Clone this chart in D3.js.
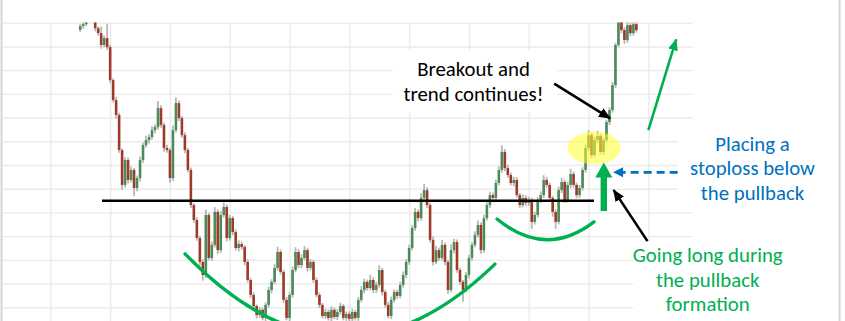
<!DOCTYPE html>
<html>
<head>
<meta charset="utf-8">
<script src="https://cdn.jsdelivr.net/npm/d3@7"></script>
<style>
html, body { margin: 0; padding: 0; background: #fff; }
svg { display: block; }
</style>
</head>
<body>
<div id="chart"></div>
<script>
// closing prices, one per bar (bar index starts at firstBar)
var firstBar = 10;
var firstOpen = 127.0;
var closes = [
  128.6,129.4,134.5,135.3,132.0,127.7,125.6,120.6,123.5,119.7,
  105.8,97.4,91.1,76.3,61.6,72.1,63.7,67.9,60.3,64.5,
  72.1,78.4,80.5,81.8,84.7,86.0,94.0,86.9,77.2,76.3,
  64.5,84.7,96.1,89.8,82.6,76.3,67.9,53.1,46.8,39.2,
  29.1,23.6,48.9,30.8,36.3,50.2,34.1,48.9,52.3,39.2,
  47.6,41.7,35.0,36.7,35.4,29.1,21.5,15.2,10.5,6.7,
  8.9,5.5,11.0,17.3,20.7,26.6,33.3,24.9,13.1,5.5,
  15.2,25.7,33.3,27.8,30.8,34.1,26.6,29.1,21.5,15.2,
  11.0,6.3,8.0,5.5,8.9,5.9,8.0,10.5,5.5,7.2,
  5.1,8.0,5.5,13.1,17.3,20.7,18.1,21.5,17.3,19.4,
  25.7,16.4,11.0,6.3,13.1,16.4,14.8,19.4,23.6,29.1,
  35.0,43.4,50.2,47.6,56.1,59.4,53.1,38.4,29.1,34.1,
  30.8,36.3,29.1,17.3,34.1,37.5,25.7,20.7,17.3,23.6,
  30.8,36.3,40.5,44.7,34.1,47.6,53.1,57.3,56.1,62.4,
  67.9,75.5,68.7,65.8,62.4,63.7,57.3,53.1,56.1,54.0,
  55.2,46.0,48.9,55.2,57.3,63.7,61.6,56.1,50.2,46.0,
  59.4,62.8,55.2,61.6,66.2,61.6,57.3,60.3,67.9,77.2,
  82.6,74.2,80.5,82.2,75.5,80.5,88.1,93.2,103.7,120.6,
  133.2,126.9,122.7,129.0,125.6,129.4,126.9
];
// wick length above the body / below the body
var wickUp = [
  0.8,1.2,0.6,1.0,0.9,1.5,0.7,2.8,1.1,6.0,
  1.0,0.8,1.3,0.9,0.7,1.2,1.0,1.5,0.8,1.1,
  1.4,1.0,1.8,1.2,1.6,1.1,3.0,1.2,0.9,1.3,
  1.0,2.0,2.4,1.1,0.9,1.2,0.8,1.0,0.7,1.1,
  0.9,1.2,2.2,1.0,1.4,2.0,1.1,1.6,1.9,1.0,
  1.3,0.9,1.1,1.5,1.0,0.8,1.2,0.9,1.1,0.7,
  1.2,0.8,1.0,1.4,1.1,1.6,2.2,1.0,0.9,1.2,
  1.1,1.4,2.0,1.3,1.5,1.8,1.0,1.2,0.9,1.1,
  1.0,0.8,1.3,1.1,1.5,0.9,1.2,1.4,0.8,1.0,
  1.1,1.3,0.9,1.2,1.6,1.4,1.0,2.2,1.1,1.3,
  2.0,1.0,0.9,1.2,1.4,1.1,1.0,1.3,1.5,1.2,
  1.4,1.2,1.6,1.0,2.0,2.6,1.2,1.0,1.4,1.8,
  1.1,2.2,1.0,0.9,2.5,1.4,1.1,1.0,0.8,1.2,
  1.3,1.1,1.6,1.9,1.0,1.4,1.2,1.5,1.1,1.4,
  1.6,2.8,1.2,1.4,1.0,1.3,1.1,0.9,1.5,1.2,
  1.4,1.0,1.3,1.2,1.6,2.0,1.3,1.0,0.9,1.1,
  1.5,1.8,1.0,1.4,2.2,1.1,1.0,1.3,1.2,1.4,
  2.0,1.0,1.5,2.2,1.0,1.2,1.0,1.1,1.3,1.0,
  1.5,1.0,1.2,1.4,1.0,1.6,1.1
];
var wickDown = [
  0.9,1.1,0.8,1.2,1.0,1.3,1.0,1.5,0.9,1.2,
  1.3,1.0,1.6,1.2,2.0,1.1,1.4,1.0,3.5,1.4,
  1.5,1.2,1.0,1.4,1.1,1.3,1.0,1.2,1.6,1.1,
  2.0,1.3,1.0,1.2,1.1,1.4,1.0,1.3,1.2,1.1,
  1.5,2.4,1.2,1.0,1.3,1.1,1.6,1.2,1.0,1.4,
  1.1,1.3,1.0,1.5,1.2,1.4,1.0,1.3,1.1,1.5,
  1.2,1.0,1.3,1.1,1.4,1.0,1.2,1.1,1.3,1.0,
  1.4,1.1,1.0,1.3,1.2,1.0,1.5,1.1,1.2,1.0,
  1.3,1.0,1.2,1.1,1.4,1.0,1.3,1.1,1.0,1.2,
  1.0,1.3,1.1,1.2,1.0,1.4,1.1,1.0,1.3,1.2,
  1.1,1.4,1.2,1.0,1.3,1.1,1.2,1.0,1.1,1.3,
  1.2,1.0,1.1,1.4,1.0,1.2,1.3,1.1,1.5,1.0,
  1.2,1.1,1.4,1.6,1.0,1.3,1.1,1.2,5.0,1.0,
  1.3,1.2,1.0,1.1,1.5,1.2,1.0,1.3,1.1,1.2,
  1.0,1.1,1.3,1.2,1.0,1.4,1.1,1.2,1.0,1.3,
  1.2,3.0,1.1,1.0,1.3,1.2,1.1,1.4,2.0,3.0,
  1.1,1.3,1.2,1.0,1.4,1.1,1.3,1.2,1.0,1.1,
  1.3,1.2,1.0,1.4,1.1,1.2,1.0,1.3,1.1,1.2,
  1.0,1.3,1.6,1.1,1.2,1.0,1.1
];

// grid positions
var gridPrices = [10, 20, 30, 40, 50, 60, 70, 80, 90, 100, 110, 120, 130];
var gridBars = [0, 20, 40, 60, 80, 100, 120, 140, 160, 180, 200];

// drawn annotations, in bar / price units
var resistance = {price: 54.9, from: 17.3, to: 181.8};
var bowlBig = [[45.05, 32.5], [97.0, -35.0], [148.7, 28.2]];
var bowlSmall = [[149.4, 47.2], [165.6, 30.35], [181.8, 46.0]];
var highlight = {bar: 181.9, price: 77.2};

var W = 845, H = 321;
var plot = {left: 2.5, right: 693, top: 22.5, bottom: 321};

var x = d3.scaleLinear().domain([-16, 215]).range([plot.left, 693.2]);
var y = d3.scaleLinear().domain([4.2, 130.1]).range([321, 22.5]);

var bars = closes.map(function(c, i) {
    var o = i ? closes[i - 1] : firstOpen;
    return {
        bar: firstBar + i,
        open: o,
        close: c,
        high: Math.max(o, c) + wickUp[i],
        low: Math.min(o, c) - wickDown[i]
    };
});

var svg = d3.select('#chart').append('svg')
    .attr('width', W)
    .attr('height', H);

svg.append('rect').attr('width', W).attr('height', H).attr('fill', '#fff');

// gridlines from the axes
svg.append('g')
    .attr('transform', 'translate(0,' + plot.bottom + ')')
    .call(d3.axisBottom(x).tickValues(gridBars).tickSize(-(plot.bottom - plot.top)).tickFormat(''))
    .call(function(g) { g.select('.domain').remove(); });

svg.append('g')
    .attr('transform', 'translate(' + plot.left + ',0)')
    .call(d3.axisLeft(y).tickValues(gridPrices).tickSize(-(plot.right - plot.left)).tickFormat(''))
    .call(function(g) { g.select('.domain').remove(); });

svg.selectAll('.tick line').attr('stroke', '#ebebeb').attr('stroke-width', 1.4);

// frame at the picture edges
svg.append('line').attr('x1', 1.5).attr('x2', 1.5).attr('y1', 0).attr('y2', H)
    .attr('stroke', '#d6d6d6').attr('stroke-width', 2);
svg.append('line').attr('x1', 839.5).attr('x2', 839.5).attr('y1', 0).attr('y2', H)
    .attr('stroke', '#d6d6d6').attr('stroke-width', 2);

// white text boxes over the grid
var boxes = [[393, 50, 164, 62], [678, 125, 130, 82], [633, 241, 155, 80]];
svg.selectAll('rect.box').data(boxes).enter().append('rect')
    .attr('class', 'box')
    .attr('x', function(d) { return d[0]; })
    .attr('y', function(d) { return d[1]; })
    .attr('width', function(d) { return d[2]; })
    .attr('height', function(d) { return d[3]; })
    .attr('fill', '#fff');

// candles
svg.append('clipPath').attr('id', 'clip')
    .append('rect')
    .attr('x', plot.left).attr('y', plot.top)
    .attr('width', plot.right - plot.left).attr('height', plot.bottom - plot.top);

var candles = svg.append('g').attr('clip-path', 'url(#clip)');

candles.selectAll('line.wick').data(bars).enter().append('line')
    .attr('class', 'wick')
    .attr('x1', function(d) { return x(d.bar); })
    .attr('x2', function(d) { return x(d.bar); })
    .attr('y1', function(d) { return y(d.high); })
    .attr('y2', function(d) { return y(d.low); })
    .attr('stroke', '#a6a6a6')
    .attr('stroke-width', 1.8)
    .attr('opacity', 0.8);

candles.selectAll('rect.body').data(bars).enter().append('rect')
    .attr('class', 'body')
    .attr('x', function(d) { return x(d.bar) - 1.3; })
    .attr('width', 2.6)
    .attr('y', function(d) { return y(Math.max(d.open, d.close)); })
    .attr('height', function(d) { return Math.max(1.2, Math.abs(y(d.open) - y(d.close))); })
    .attr('fill', function(d) { return d.close >= d.open ? '#4b8a59' : '#9e3a28'; });

// resistance line
svg.append('line')
    .attr('x1', x(resistance.from)).attr('x2', x(resistance.to))
    .attr('y1', y(resistance.price)).attr('y2', y(resistance.price))
    .attr('stroke', '#000').attr('stroke-width', 2.6);

// bowls
function bowl(pts) {
    var p = d3.path();
    p.moveTo(x(pts[0][0]), y(pts[0][1]));
    p.quadraticCurveTo(x(pts[1][0]), y(pts[1][1]), x(pts[2][0]), y(pts[2][1]));
    return p.toString();
}
svg.append('path').attr('d', bowl(bowlBig))
    .attr('fill', 'none').attr('stroke', '#00b050').attr('stroke-width', 3.4).attr('stroke-linecap', 'round');
svg.append('path').attr('d', bowl(bowlSmall))
    .attr('fill', 'none').attr('stroke', '#00b050').attr('stroke-width', 3.4).attr('stroke-linecap', 'round');

// yellow highlight
svg.append('ellipse')
    .attr('cx', x(highlight.bar)).attr('cy', y(highlight.price))
    .attr('rx', 26.7).attr('ry', 16.2)
    .attr('fill', '#ffff2e').attr('opacity', 0.55);

// arrows
var defs = svg.append('defs');
function head(id, color) {
    defs.append('marker')
        .attr('id', id)
        .attr('markerUnits', 'userSpaceOnUse')
        .attr('viewBox', '0 0 12 10')
        .attr('refX', 11).attr('refY', 5)
        .attr('markerWidth', 12).attr('markerHeight', 10)
        .attr('orient', 'auto')
        .append('path').attr('d', 'M0,0 L12,5 L0,10 Z').attr('fill', color);
}
head('hBlack', '#000');
head('hGreen', '#00b050');

function arrow(a, b, color, marker) {
    svg.append('line')
        .attr('x1', x(a[0])).attr('y1', y(a[1]))
        .attr('x2', x(b[0])).attr('y2', y(b[1]))
        .attr('stroke', color).attr('stroke-width', 2.6)
        .attr('marker-end', 'url(#' + marker + ')');
}
arrow([168.5, 104.3], [187.2, 89.7], '#000', 'hBlack');
arrow([199.7, 37.9], [188.4, 59.4], '#000', 'hBlack');
arrow([200.0, 84.7], [209.3, 123.0], '#00b050', 'hGreen');

// thick green entry arrow
var ex = x(185.1), eTop = y(71.0), eBot = y(50.6);
svg.append('path')
    .attr('d', 'M' + (ex - 3.2) + ',' + eBot + 'L' + (ex - 3.2) + ',' + (eTop + 15) +
        'L' + (ex - 8.5) + ',' + (eTop + 15) + 'L' + ex + ',' + eTop +
        'L' + (ex + 8.5) + ',' + (eTop + 15) + 'L' + (ex + 3.2) + ',' + (eTop + 15) +
        'L' + (ex + 3.2) + ',' + eBot + 'Z')
    .attr('fill', '#00b050');

// blue dashed stop arrow
var sy = y(66.9), sx0 = x(209.8), sx1 = x(188.2);
svg.append('line')
    .attr('x1', sx0).attr('x2', sx1 + 9)
    .attr('y1', sy).attr('y2', sy)
    .attr('stroke', '#0070c0').attr('stroke-width', 2.6)
    .attr('stroke-dasharray', '8,5');
svg.append('path')
    .attr('d', 'M' + sx1 + ',' + sy + 'L' + (sx1 + 10) + ',' + (sy - 5) + 'L' + (sx1 + 10) + ',' + (sy + 5) + 'Z')
    .attr('fill', '#0070c0');

// labels
function label(lines, cx, y0, gap, color, fitLine, fitWidth) {
    var g = svg.append('g')
        .attr('font-family', 'Carlito, Calibri, Lato, sans-serif')
        .attr('fill', color)
        .attr('text-anchor', 'middle')
        .attr('font-size', 20);
    var t = g.selectAll('text').data(lines).enter().append('text')
        .attr('x', cx)
        .attr('y', function(d, i) { return y0 + i * gap; })
        .text(function(d) { return d; });
    var w = t.nodes()[fitLine].getComputedTextLength();
    g.attr('font-size', 20 * fitWidth / w);
}
label(['Breakout and', 'trend continues!'], 473.5, 76, 24.5, '#000', 1, 140);
label(['Placing a', 'stoploss below', 'the pullback'], 752.5, 151, 24.3, '#0070c0', 1, 125);
label(['Going long during', 'the pullback', 'formation'], 707.7, 262, 24.5, '#00b050', 0, 150);
</script>
</body>
</html>
